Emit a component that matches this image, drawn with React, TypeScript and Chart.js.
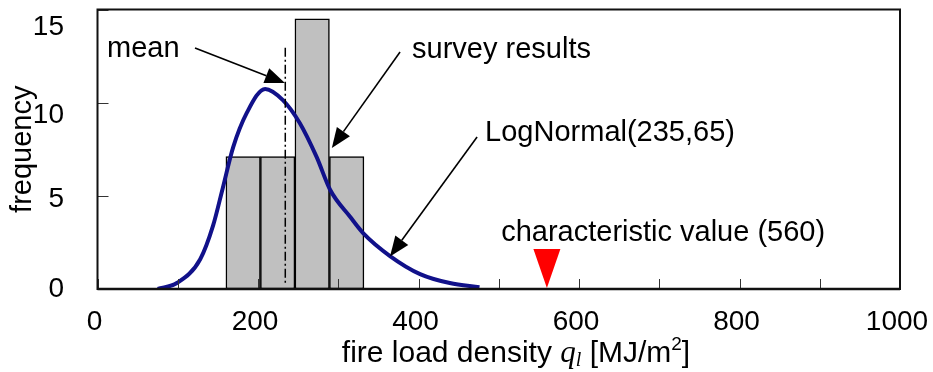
import React, { useEffect, useRef } from 'react';
import { Chart, registerables } from 'chart.js';

Chart.register(...registerables);

// ---- data ----
const binCenters = [181.5, 224.5, 267.5, 310.5];
const binCounts = [7.1, 7.1, 14.5, 7.1];

const curveX = [75, 99, 128, 144, 156, 169, 186, 209, 231, 252, 273, 290, 315, 331, 364.5, 402, 439, 476];
const curveY = [0, 0.32, 1.6, 3.4, 5.4, 7.6, 9.45, 10.74, 10.14, 8.91, 7.09, 5.31, 3.86, 3.0, 1.77, 0.8, 0.32, 0.1];

const meanValue = 234;
const meanLineRange = [0.3, 12.95];
const characteristicValue = 560;

const xTickStep = 100;
const xLabelStep = 200;
const yTickStep = 5;
// vertical label drop (px) of each y tick label below its tick, as in the reference
const yLabelDrop: Record<number, number> = { 0: 0, 5: 3, 10: 12.5, 15: 18 };

// annotation anchors in data units
const annotations = [
  { text: 'mean', x: 11.8, y: 12.45, from: [121.5, 12.94], to: [233.6, 11.06] },
  { text: 'survey results', x: 392, y: 12.4, from: [377, 12.72], to: [292, 7.57] },
  { text: 'LogNormal(235,65)', x: 483, y: 7.94, from: [473, 8.16], to: [364.5, 1.75] },
  { text: 'characteristic value (560)', x: 503, y: 2.58, from: null, to: null },
];

const SANS = "'Liberation Sans', Arial, sans-serif";
const SERIF = "'Liberation Serif', 'Times New Roman', serif";

function drawArrow(ctx: CanvasRenderingContext2D, x1: number, y1: number, x2: number, y2: number) {
  const ang = Math.atan2(y2 - y1, x2 - x1);
  const len = 20;
  const half = 8;
  const bx = x2 - len * Math.cos(ang);
  const by = y2 - len * Math.sin(ang);
  ctx.save();
  ctx.strokeStyle = '#000';
  ctx.fillStyle = '#000';
  ctx.lineWidth = 1.6;
  ctx.beginPath();
  ctx.moveTo(x1, y1);
  ctx.lineTo(bx, by);
  ctx.stroke();
  ctx.beginPath();
  ctx.moveTo(x2, y2);
  ctx.lineTo(bx + half * Math.sin(ang), by - half * Math.cos(ang));
  ctx.lineTo(bx - half * Math.sin(ang), by + half * Math.cos(ang));
  ctx.closePath();
  ctx.fill();
  ctx.restore();
}

const overlayPlugin = {
  id: 'overlay',
  afterDatasetsDraw(chart: any) {
    const ctx: CanvasRenderingContext2D = chart.ctx;
    const xs = chart.scales.x;
    const ys = chart.scales.y;
    const area = chart.chartArea;

    // mean dash-dot line
    ctx.save();
    ctx.strokeStyle = '#000';
    ctx.lineWidth = 1.5;
    ctx.setLineDash([9, 3, 2, 3]);
    ctx.beginPath();
    const mx = xs.getPixelForValue(meanValue);
    ctx.moveTo(mx, ys.getPixelForValue(meanLineRange[1]));
    ctx.lineTo(mx, ys.getPixelForValue(meanLineRange[0]));
    ctx.stroke();
    ctx.restore();

    // inside ticks
    ctx.save();
    ctx.strokeStyle = '#333';
    ctx.lineWidth = 1;
    ctx.beginPath();
    xs.ticks.forEach((t: any) => {
      const px = Math.round(xs.getPixelForValue(t.value)) + 0.5;
      ctx.moveTo(px, area.bottom);
      ctx.lineTo(px, area.bottom - 10);
    });
    ys.ticks.forEach((t: any) => {
      const py = Math.round(ys.getPixelForValue(t.value)) + 0.5;
      ctx.moveTo(area.left, py);
      ctx.lineTo(area.left + 11, py);
    });
    ctx.stroke();
    ctx.restore();

    // frame
    ctx.save();
    ctx.strokeStyle = '#111';
    ctx.lineWidth = 2;
    ctx.strokeRect(area.left, area.top, area.right - area.left, area.bottom - area.top);
    ctx.lineWidth = 2.5;
    ctx.beginPath();
    ctx.moveTo(area.left, area.bottom);
    ctx.lineTo(area.right, area.bottom);
    ctx.stroke();
    ctx.restore();

    // characteristic value marker
    const cx = xs.getPixelForValue(characteristicValue);
    const cy = ys.getPixelForValue(0) - 1;
    ctx.save();
    ctx.fillStyle = '#ff0000';
    ctx.beginPath();
    ctx.moveTo(cx, cy);
    ctx.lineTo(cx - 13.5, cy - 39);
    ctx.lineTo(cx + 13.5, cy - 39);
    ctx.closePath();
    ctx.fill();
    ctx.restore();

    // annotations
    ctx.save();
    ctx.font = `29px ${SANS}`;
    ctx.fillStyle = '#000';
    ctx.textBaseline = 'alphabetic';
    ctx.textAlign = 'left';
    annotations.forEach((a) => {
      ctx.fillText(a.text, xs.getPixelForValue(a.x), ys.getPixelForValue(a.y));
      if (a.from && a.to) {
        drawArrow(
          ctx,
          xs.getPixelForValue(a.from[0]), ys.getPixelForValue(a.from[1]),
          xs.getPixelForValue(a.to[0]), ys.getPixelForValue(a.to[1])
        );
      }
    });
    ctx.restore();

    // x-axis title with italic q_l and m^2
    ctx.save();
    ctx.fillStyle = '#000';
    ctx.textBaseline = 'alphabetic';
    ctx.textAlign = 'left';
    const parts: { t: string; font: string; dy: number }[] = [
      { t: 'fire load density ', font: `30px ${SANS}`, dy: 0 },
      { t: 'q', font: `italic 31px ${SERIF}`, dy: 0 },
      { t: 'l', font: `italic 20px ${SERIF}`, dy: 4 },
      { t: ' [MJ/m', font: `30px ${SANS}`, dy: 0 },
      { t: '2', font: `19px ${SANS}`, dy: -12 },
      { t: ']', font: `30px ${SANS}`, dy: 0 },
    ];
    let total = 0;
    parts.forEach((p) => { ctx.font = p.font; total += ctx.measureText(p.t).width; });
    let x = 516 - total / 2;
    const base = 362;
    parts.forEach((p) => {
      ctx.font = p.font;
      ctx.fillText(p.t, x, base + p.dy);
      x += ctx.measureText(p.t).width;
    });
    ctx.restore();
  },
};

export default function App() {
  const ref = useRef<HTMLCanvasElement | null>(null);

  useEffect(() => {
    document.body.style.margin = '0';
    const canvas = ref.current;
    if (!canvas) return;
    const chart = new Chart(canvas, {
      type: 'bar',
      data: {
        datasets: [
          {
            type: 'line',
            label: 'LogNormal(235,65)',
            data: curveX.map((x, i) => ({ x, y: curveY[i] })),
            borderColor: '#11118a',
            borderWidth: 4,
            pointRadius: 0,
            tension: 0.4,
            cubicInterpolationMode: 'monotone',
            order: 1,
          } as any,
          {
            type: 'bar',
            label: 'survey results',
            data: binCenters.map((x, i) => ({ x, y: binCounts[i] })),
            backgroundColor: '#c0c0c0',
            borderColor: '#000',
            borderWidth: 1.5,
            borderSkipped: false,
            barPercentage: 1,
            categoryPercentage: 1,
            grouped: false,
            order: 2,
          } as any,
        ],
      },
      options: {
        animation: false,
        responsive: false,
        maintainAspectRatio: false,
        layout: { padding: { top: 9.5, right: 33, left: 0, bottom: 0 } },
        plugins: {
          legend: { display: false },
          tooltip: { enabled: false },
        },
        scales: {
          x: {
            type: 'linear',
            min: 0,
            max: 1000,
            offset: false,
            grid: { display: false, offset: false },
            border: { display: false },
            ticks: {
              stepSize: xTickStep,
              autoSkip: false,
              maxRotation: 0,
              padding: 8,
              labelOffset: -3,
              color: '#000',
              font: { family: SANS, size: 28 },
              callback: (v: any) => (Number(v) % xLabelStep === 0 ? String(v) : ''),
            },
            afterFit: (s: any) => { s.height = 83; s.paddingLeft = 0; s.paddingRight = 0; },
          },
          y: {
            type: 'linear',
            min: 0,
            max: 15,
            grid: { display: false },
            border: { display: false },
            ticks: {
              stepSize: yTickStep,
              padding: 25.5,
              color: '#000',
              font: (c: any) => {
                const v = c.tick ? c.tick.value : 0;
                const drop = yLabelDrop[v] || 0;
                return { family: SANS, size: 28, lineHeight: drop > 0 ? `${drop * 2}px` : 1.2 };
              },
              callback: (v: any) => {
                const drop = yLabelDrop[Number(v)] || 0;
                return drop > 0 ? ['', String(v)] : String(v);
              },
            },
            title: {
              display: true,
              text: 'frequency',
              color: '#000',
              font: { family: SANS, size: 29 },
              padding: { top: 6, bottom: 0 },
            },
            afterFit: (s: any) => { s.width = 97.5; s.paddingTop = 0; s.paddingBottom = 0; },
          },
        },
      } as any,
      plugins: [overlayPlugin],
    });
    return () => chart.destroy();
  }, []);

  return (
    <div style={{ width: 933, height: 372, background: '#fff' }}>
      <canvas ref={ref} width={933} height={372} style={{ display: 'block' }} />
    </div>
  );
}
